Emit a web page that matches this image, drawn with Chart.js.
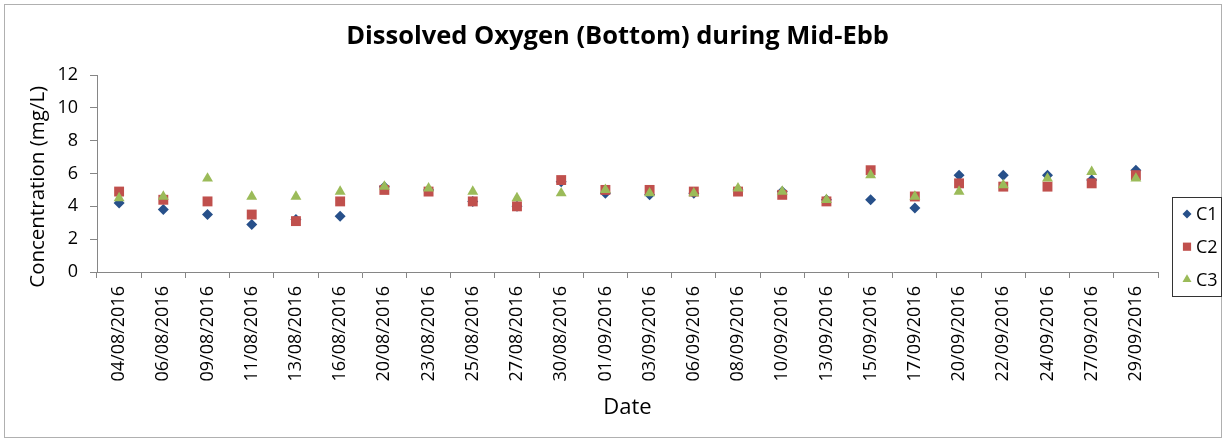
<!DOCTYPE html>
<html>
<head>
<meta charset="utf-8">
<script src="https://cdn.jsdelivr.net/npm/chart.js@4.4.1/dist/chart.umd.min.js"></script>
<style>
  html, body { margin: 0; padding: 0; background: #ffffff; }
  #wrap { width: 1225px; height: 441px; position: relative; }
</style>
</head>
<body>
<div id="wrap"><canvas id="c" width="1225" height="441"></canvas></div>
<script>
// ---- data ----
const dates = ['04/08/2016','06/08/2016','09/08/2016','11/08/2016','13/08/2016','16/08/2016',
  '20/08/2016','23/08/2016','25/08/2016','27/08/2016','30/08/2016','01/09/2016','03/09/2016',
  '06/09/2016','08/09/2016','10/09/2016','13/09/2016','15/09/2016','17/09/2016','20/09/2016',
  '22/09/2016','24/09/2016','27/09/2016','29/09/2016'];
const c1 = [4.2, 3.8, 3.5, 2.9, 3.2, 3.4, 5.2, 5.0, 4.3, 4.0, 5.5, 4.8, 4.7, 4.8, 5.0, 4.9, 4.4, 4.4, 3.9, 5.9, 5.9, 5.9, 5.6, 6.2];
const c2 = [4.9, 4.4, 4.3, 3.5, 3.1, 4.3, 5.0, 4.9, 4.3, 4.0, 5.6, 5.0, 5.0, 4.9, 4.9, 4.7, 4.3, 6.2, 4.6, 5.4, 5.2, 5.2, 5.4, 5.9];
const c3 = [4.5, 4.6, 5.7, 4.6, 4.6, 4.9, 5.2, 5.1, 4.9, 4.5, 4.8, 5.0, 4.8, 4.8, 5.1, 4.9, 4.4, 5.9, 4.6, 4.9, 5.3, 5.7, 6.1, 5.7];
const seriesNames = ['C1', 'C2', 'C3'];
const yMin = 0, yMax = 12, yStep = 2;

const FONT = "'Open Sans', 'Liberation Sans', sans-serif";
const AXIS = '#868686';

const colors = ['#27508A', '#C0504D', '#9BBB59'];
const styles = ['rectRot', 'rect', 'triangle'];
const radii = [5.5, 7, 6.3];
const legendRadii = [4.5, 5.8, 5.2];

const frame = {
  id: 'frame',
  beforeDraw(chart) {
    const ctx = chart.ctx;
    ctx.save();
    ctx.fillStyle = '#ffffff';
    ctx.fillRect(0, 0, chart.width, chart.height);
    ctx.strokeStyle = '#b0b0b0';
    ctx.lineWidth = 1;
    ctx.strokeRect(4.5, 4.5, 1217, 433);
    ctx.restore();
  },
  afterDraw(chart) {
    const ctx = chart.ctx;
    ctx.save();
    ctx.strokeStyle = '#333333';
    ctx.lineWidth = 1;
    ctx.strokeRect(1172.5, 197.5, 49, 99);
    ctx.font = "18px " + FONT;
    ctx.textBaseline = 'middle';
    ctx.textAlign = 'left';
    chart.data.datasets.forEach((ds, i) => {
      const y = 214 + i * 32.7;
      ctx.fillStyle = ds.pointBackgroundColor;
      Chart.helpers.drawPoint(ctx, { pointStyle: ds.pointStyle, radius: legendRadii[i], rotation: 0, borderWidth: 0 }, 1187, y);
      ctx.fillStyle = '#000000';
      ctx.fillText(ds.label, 1196, y + 1);
    });
    ctx.restore();
  }
};

new Chart(document.getElementById('c'), {
  type: 'line',
  data: {
    labels: dates,
    datasets: [c1, c2, c3].map((d, i) => ({
      label: seriesNames[i],
      data: d,
      showLine: false,
      pointStyle: styles[i],
      pointRadius: radii[i],
      pointBackgroundColor: colors[i],
      pointBorderColor: colors[i],
      pointBorderWidth: 0,
      backgroundColor: colors[i],
      borderColor: colors[i],
      order: 3 - i
    }))
  },
  options: {
    responsive: false,
    animation: false,
    events: [],
    layout: { padding: { left: 0, right: 67, top: 0, bottom: 0 } },
    plugins: {
      legend: { display: false },
      tooltip: { enabled: false },
      title: {
        display: true,
        fullSize: false,
        text: 'Dissolved Oxygen (Bottom) during Mid-Ebb\u00A0\u00A0\u00A0',
        color: '#000000',
        font: { family: FONT, size: 25.5, weight: 'bold' },
        padding: { top: 21, bottom: 23.4 }
      }
    },
    scales: {
      x: {
        type: 'category',
        offset: true,
        grid: { offset: true, drawOnChartArea: false, drawTicks: true, tickLength: 6, color: AXIS },
        border: { color: AXIS, width: 1 },
        ticks: { autoSkip: false, minRotation: 90, maxRotation: 90, padding: 8, color: '#000000', font: { family: FONT, size: 18 } },
        title: { display: true, text: 'Date', color: '#000000', font: { family: FONT, size: 22 }, padding: { top: 0, bottom: 20 } },
        afterFit: (s) => { s.height = 169; }
      },
      y: {
        min: yMin, max: yMax,
        grid: { drawOnChartArea: false, drawTicks: true, tickLength: 7, color: AXIS },
        border: { color: AXIS, width: 1 },
        ticks: { stepSize: yStep, padding: 12, color: '#000000', font: { family: FONT, size: 18 } },
        title: { display: true, text: 'Concentration (mg/L)\u00A0\u00A0\u00A0\u00A0\u00A0', color: '#000000', font: { family: FONT, size: 20.5 }, padding: { top: 26, bottom: 0 } },
        afterFit: (s) => { s.width = 97; }
      }
    }
  },
  plugins: [frame]
});
</script>
</body>
</html>
